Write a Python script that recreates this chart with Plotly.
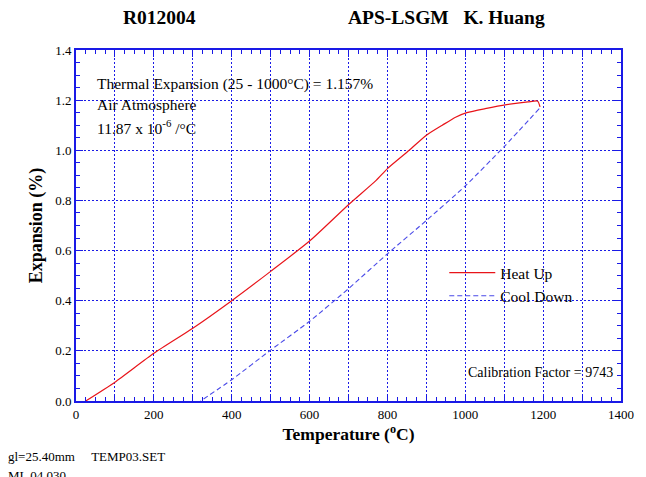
import plotly.graph_objects as go

# ---- data ----
heat_temp = [25, 100, 200, 300, 400, 500, 600, 700, 771, 800, 856, 900, 941, 975, 1004, 1051, 1106, 1161, 1186, 1192]
heat_exp = [0.0, 0.075, 0.19, 0.29, 0.40, 0.517, 0.638, 0.783, 0.880, 0.927, 1.0, 1.060, 1.100, 1.132, 1.150, 1.166, 1.182, 1.193, 1.196, 1.173]

cool_temp = [1190, 1100, 1000, 900, 800, 700, 600, 500, 400, 320]
cool_exp = [1.166, 1.015, 0.858, 0.72, 0.587, 0.448, 0.318, 0.203, 0.085, 0.0]

x_ticks = list(range(0, 1401, 100))
x_labels = [str(v) if v % 200 == 0 else "" for v in x_ticks]

FONT = "Liberation Serif"
BLUE = "#1a1ae6"

W, H = 646, 477
L, R, T, B = 76, 18, 50, 76
pw, ph = W - L - R, H - T - B


def px(x):
    return (x - L) / pw


def py(y):
    return (H - B - y) / ph


fig = go.Figure()
fig.add_trace(go.Scatter(x=heat_temp, y=heat_exp, mode="lines", name="Heat Up",
                         line=dict(color="#e8141a", width=1.2, shape="spline", smoothing=0.6)))
fig.add_trace(go.Scatter(x=cool_temp, y=cool_exp, mode="lines", name="Cool Down",
                         line=dict(color="#4a4ae8", width=1.1, dash="5px,3px", shape="spline", smoothing=0.6)))

axis_common = dict(
    showline=True, linecolor=BLUE, linewidth=2, mirror="allticks",
    ticks="inside", tickcolor=BLUE, ticklen=7, tickwidth=1,
    showgrid=True, gridcolor=BLUE, gridwidth=1, griddash="2px,2px",
    zeroline=False, tickfont=dict(family=FONT, size=13, color="black"),
)

fig.update_xaxes(range=[0, 1400], tickmode="array", tickvals=x_ticks, ticktext=x_labels,
                 minor=dict(dtick=25, ticks="inside", ticklen=4, tickcolor=BLUE, showgrid=False),
                 title=dict(text="<b>Temperature (<sup>o</sup>C)</b>", font=dict(family=FONT, size=17.5, color="black"), standoff=3),
                 **axis_common)
fig.update_yaxes(range=[0, 1.4], dtick=0.2, tickformat=".1f",
                 minor=dict(dtick=0.05, ticks="inside", ticklen=4, tickcolor=BLUE, showgrid=False),
                 title=dict(text="<b>Expansion (%)</b>", font=dict(family=FONT, size=18, color="black"), standoff=8),
                 **axis_common)

ann = []


def text(x, y, s, size=13, bold=False, xanchor="left"):
    ann.append(dict(x=px(x), y=py(y), xref="paper", yref="paper", text=("<b>%s</b>" % s) if bold else s,
                    showarrow=False, xanchor=xanchor, yanchor="middle",
                    font=dict(family=FONT, size=size, color="black")))


text(161, 18, "R012004", 19.5, True, "center")
text(349, 18, "APS-LSGM&nbsp;&nbsp;&nbsp;K. Huang", 19.5, True)
text(95, 84, "Thermal Expansion (25 - 1000°C) = 1.157%", 15.5)
text(95, 104, "Air Atmosphere", 15.5)
text(95, 127, "11.87 x 10<sup>-6</sup> /°C", 15.5)
text(622, 372, "Calibration Factor = 9743", 14, xanchor="right")
text(5, 456, "gl=25.40mm&nbsp;&nbsp;&nbsp;&nbsp;&nbsp;TEMP03.SET", 13)
text(5, 475, "ML 04.030", 13)

fig.update_layout(
    width=W, height=H, margin=dict(l=L, r=R, t=T, b=B),
    paper_bgcolor="white", plot_bgcolor="white",
    showlegend=True,
    legend=dict(x=px(449), y=py(256), xanchor="left", yanchor="top",
                bgcolor="rgba(0,0,0,0)", font=dict(family=FONT, size=15.5, color="black"),
                tracegroupgap=0, itemwidth=46),
    annotations=ann,
    font=dict(family=FONT),
)

fig.write_html("out.html")
